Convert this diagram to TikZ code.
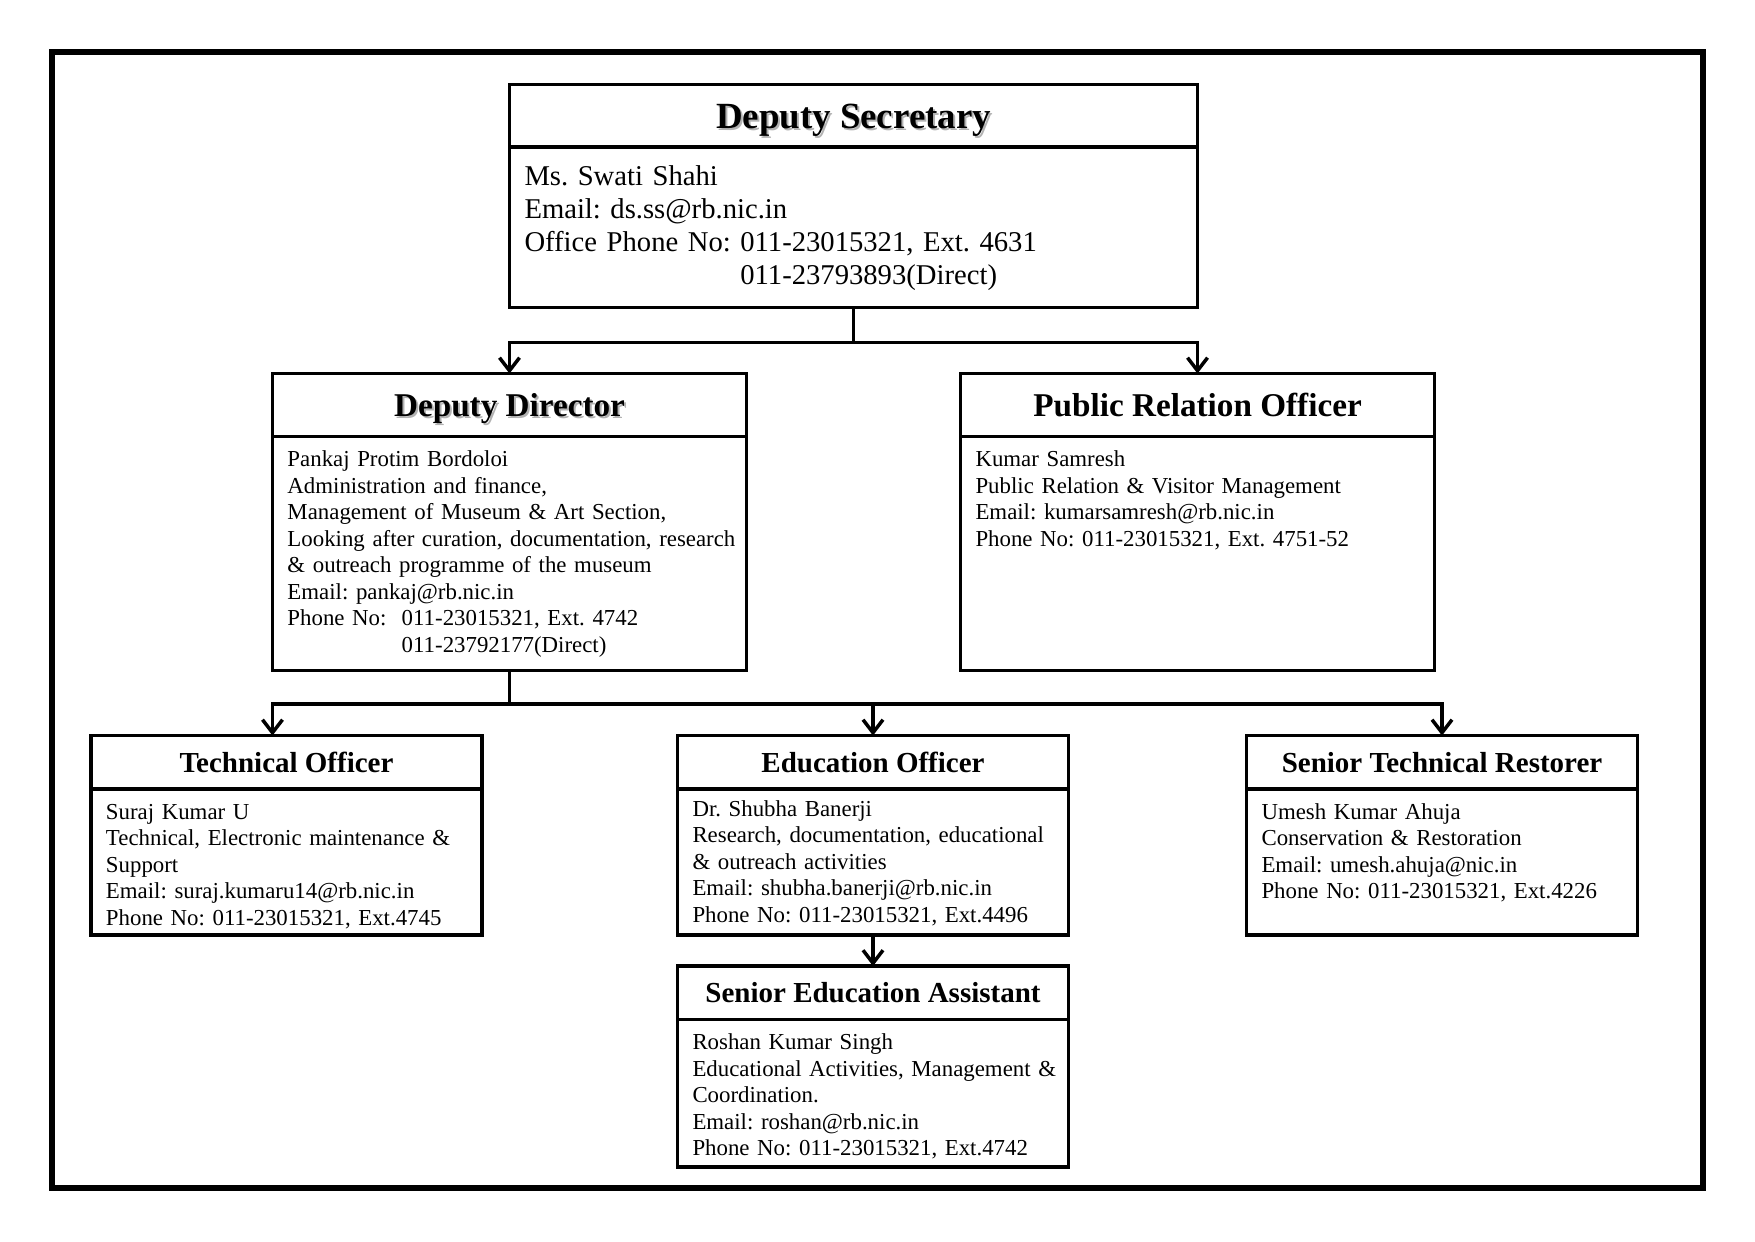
\documentclass[tikz,border=0pt]{standalone}
\usepackage{fontspec}
\setmainfont{Liberation Serif}
\usepackage{tikz}
\usetikzlibrary{positioning, arrows.meta}
\frenchspacing
\newcommand{\shadowtitle}[1]{\makebox[0pt][l]{\kern0.4mm\raisebox{-0.4mm}{\textcolor{black!30}{#1}}}#1}
\newcommand{\topfont}{\fontsize{16.3}{18.9}\selectfont}
\newcommand{\bodyfont}{\fontsize{13}{15.1}\selectfont}

\begin{document}
\begin{tikzpicture}[
  x=0.2mm, y=-0.2mm,
  headbox/.style={draw, line width=0.7mm, outer sep=0pt, inner sep=0pt, minimum width=#1, minimum height=10.7mm, text depth=0pt, font=\fontsize{16.5}{19}\selectfont\bfseries},
  bodybox/.style={draw, line width=0.7mm, outer sep=0pt, inner xsep=3mm, inner ysep=2.6mm, text width=#1-6mm, align=left, text height=3.4mm, font=\bodyfont},
  arr/.style={-{Straight Barb[length=2.6mm, width=4mm]}, line width=0.7mm},
  outerframe/.style={line width=1.1mm}
]
  \useasboundingbox (0,0) rectangle (1755,1241);
  \draw[outerframe] (52,52) rectangle (1703,1188);

  % top level
  \node[headbox=137.6mm, minimum height=12.5mm, font=\fontsize{21}{24}\selectfont\bfseries] (dsT) at (853.5,115.8) {\shadowtitle{Deputy Secretary}};
  \node[bodybox=137.6mm, below=0pt of dsT, font=\topfont, text height=5mm, text depth=21.9mm] (dsB) {Ms. Swati Shahi\\ Email: ds.ss@rb.nic.in\\ Office Phone No: 011-23015321, Ext. 4631\\ \phantom{Office Phone No: }011-23793893(Direct)};

  % second level
  \node[headbox=94.8mm, minimum height=12.6mm, font=\fontsize{18.9}{22}\selectfont\bfseries, below=13.2mm of dsB.south west] (ddT) {\shadowtitle{Deputy Director}};
  \node[bodybox=94.8mm, below=0pt of ddT, text depth=38.2mm] (ddB) {Pankaj Protim Bordoloi\\ Administration and finance,\\ Management of Museum \& Art Section,\\ \mbox{Looking after curation, documentation, research}\\ \& outreach programme of the museum\\ Email: pankaj@rb.nic.in\\ Phone No:\ \ 011-23015321, Ext. 4742\\ \phantom{Phone No:\ \ }011-23792177(Direct)};
  \node[headbox=94.8mm, minimum height=12.6mm, font=\fontsize{18.9}{22}\selectfont\bfseries, below=13.2mm of dsB.south east] (proT) {Public Relation Officer};
  \node[bodybox=94.8mm, below=0pt of proT, text depth=38.2mm] (proB) {Kumar Samresh\\ Public Relation \& Visitor Management\\ Email: kumarsamresh@rb.nic.in\\ Phone No: 011-23015321, Ext. 4751-52};

  % third level
  \node[headbox=78.2mm, below=13mm of ddB.south, xshift=72.7mm] (eoT) {Education Officer};
  \node[bodybox=78.2mm, below=0pt of eoT, text height=2.8mm, text depth=21.2mm] (eoB) {Dr. Shubha Banerji\\ \mbox{Research, documentation, educational}\\ \& outreach activities\\ Email: shubha.banerji@rb.nic.in\\ Phone No: 011-23015321, Ext.4496};
  \node[headbox=78.2mm, left=39.1mm of eoT] (toT) {Technical Officer};
  \node[bodybox=78.2mm, below=0pt of toT, text depth=20.6mm] (toB) {Suraj Kumar U\\ Technical, Electronic maintenance \&\\ Support\\ Email: suraj.kumaru14@rb.nic.in\\ Phone No: 011-23015321, Ext.4745};
  \node[headbox=78.2mm, right=35.6mm of eoT] (strT) {Senior Technical Restorer};
  \node[bodybox=78.2mm, below=0pt of strT, text depth=20.6mm] (strB) {Umesh Kumar Ahuja\\ Conservation \& Restoration\\ Email: umesh.ahuja@nic.in\\ Phone No: 011-23015321, Ext.4226};
  \node[headbox=78.2mm, below=6.2mm of eoB] (seaT) {Senior Education Assistant};
  \node[bodybox=78.2mm, below=0pt of seaT, text depth=20.9mm] (seaB) {Roshan Kumar Singh\\ \mbox{Educational Activities, Management \&}\\ Coordination.\\ Email: roshan@rb.nic.in\\ Phone No: 011-23015321, Ext.4742};

  % connectors
  \draw[arr] (dsB.south) -- ++(0,-7mm) -| (ddT.north);
  \draw[arr] (dsB.south) -- ++(0,-7mm) -| (proT.north);
  \draw[arr] (ddB.south) -- ++(0,-6.7mm) -| (toT.north -| ddB.west);
  \draw[arr] (ddB.south) -- ++(0,-6.7mm) -| (eoT.north);
  \draw[arr] (ddB.south) -- ++(0,-6.7mm) -| (strT.north);
  \draw[arr] (eoB) -- (seaT);
\end{tikzpicture}
\end{document}
